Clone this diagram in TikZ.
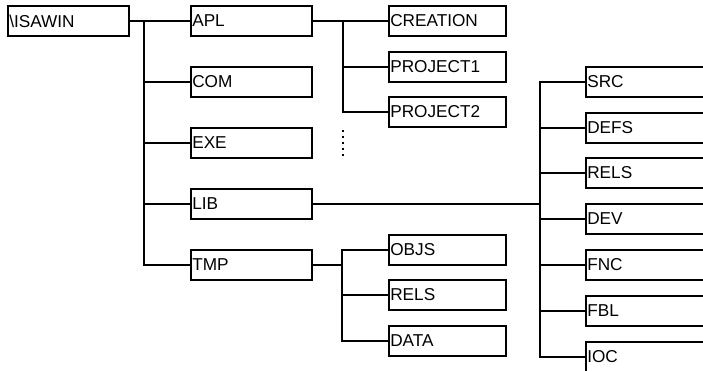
\documentclass[tikz,border=0pt]{standalone}
\usepackage{fontspec}
\setmainfont{Liberation Sans}
\begin{document}
\begin{tikzpicture}[x=1pt,y=-1pt,
  box/.style={draw, line width=1.6pt, rectangle, anchor=west, minimum height=30pt,
     inner xsep=1.5pt, inner ysep=0pt, align=left, font=\fontsize{17.2}{18}\selectfont},
  wa/.style={box, text width=118pt},
  wb/.style={box, text width=114pt},
  wc/.style={box, text width=140pt},
  conn/.style={line width=1.6pt, line cap=rect}]
\clip (0,0) rectangle (703,370);
% root
\node[wa] (isawin) at (7,21) {\textbackslash ISAWIN};
% level 1
\node[wa] (apl) at (190,21) {APL};
\node[wa] (com) at (190,82) {COM};
\node[wa] (exe) at (190,143) {EXE};
\node[wa] (lib) at (190,204) {LIB};
\node[wa] (tmp) at (190,265) {TMP};
% APL children
\node[wb] (creation) at (388,21) {CREATION};
\node[wb] (project1) at (388,67) {PROJECT1};
\node[wb] (project2) at (388,112) {PROJECT2};
% TMP children
\node[wb] (objs) at (388,250) {OBJS};
\node[wb] (rels) at (388,295) {RELS};
\node[wb] (data) at (388,341) {DATA};
% LIB children
\node[wc] (src) at (585,82) {SRC};
\node[wc] (defs) at (585,128) {DEFS};
\node[wc] (rels2) at (585,173) {RELS};
\node[wc] (dev) at (585,219) {DEV};
\node[wc] (fnc) at (585,265) {FNC};
\node[wc] (fbl) at (585,311) {FBL};
\node[wc] (ioc) at (585,357) {IOC};
% junction coordinates
\coordinate (j1) at (144,21);
\coordinate (j2) at (343,21);
\coordinate (j3) at (342,265);
\coordinate (j4) at (540,204);
\coordinate (dotstart) at (343,130);
\coordinate (dotend) at (343,156);
% root to level 1
\draw[conn] (isawin.east) -- (apl.west);
\draw[conn] (j1) -- (j1 |- tmp.west) -- (tmp.west);
\foreach \n in {com,exe,lib} \draw[conn] (j1 |- \n.west) -- (\n.west);
% APL
\draw[conn] (apl.east) -- (creation.west);
\draw[conn] (j2) -- (j2 |- project2.west) -- (project2.west);
\draw[conn] (j2 |- project1.west) -- (project1.west);
\draw[line width=1.8pt, dash pattern=on 2pt off 4pt] (dotstart) -- (dotend);
% TMP
\draw[conn] (tmp.east) -- (j3);
\draw[conn] (j3 |- objs.west) -- (objs.west);
\draw[conn] (j3 |- objs.west) -- (j3 |- data.west) -- (data.west);
\draw[conn] (j3 |- rels.west) -- (rels.west);
% LIB
\draw[conn] (lib.east) -- (j4);
\draw[conn] (j4 |- src.west) -- (src.west);
\draw[conn] (j4 |- src.west) -- (j4 |- ioc.west) -- (ioc.west);
\foreach \n in {defs,rels2,dev,fnc,fbl} \draw[conn] (j4 |- \n.west) -- (\n.west);
\end{tikzpicture}
\end{document}
